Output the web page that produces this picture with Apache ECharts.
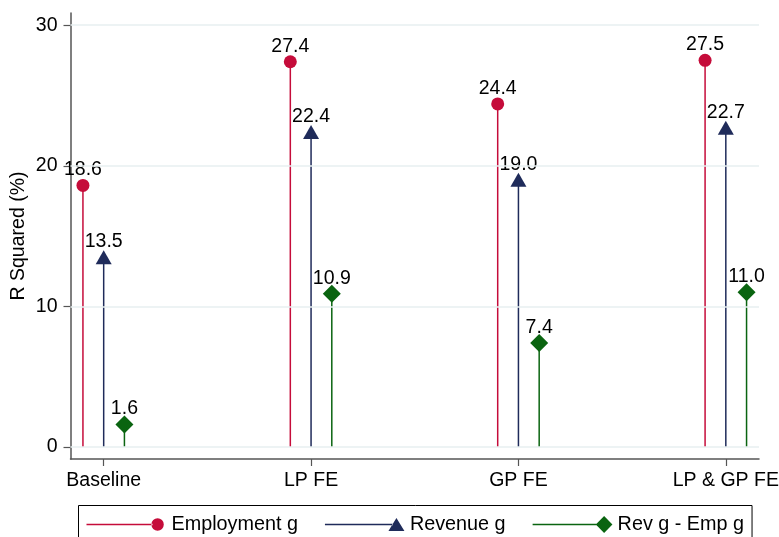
<!DOCTYPE html>
<html>
<head>
<meta charset="utf-8">
<script src="https://cdn.jsdelivr.net/npm/echarts@6/dist/echarts.min.js"></script>
<style>
html,body{margin:0;padding:0;background:#fff;}
#chart{width:779px;height:537px;}
</style>
</head>
<body>
<div id="chart"></div>
<script>
// ---- data ----
const categories = ['Baseline', 'LP FE', 'GP FE', 'LP & GP FE'];
const catPositions = [1, 2, 3, 4];
const employment = [18.6, 27.4, 24.4, 27.5];
const revenue = [13.5, 22.4, 19.0, 22.7];
const revMinusEmp = [1.6, 10.9, 7.4, 11.0];
const yTicks = [0, 10, 20, 30];
const seriesNames = ['Employment g', 'Revenue g', 'Rev g - Emp g'];

// ---- styling ----
const FONT = 'Liberation Sans, Arial, Helvetica, sans-serif';
const FS = 19.5;
const colors = ['#c50c3a', '#1f2b5a', '#0a6410'];
const offsets = [-0.1, 0, 0.1];
const symbols = ['circle', 'triangle', 'diamond'];
const symbolSizes = [13, [16, 14], [18, 18]];
const legendIcons = [
  'path://M0,0 M80,18 M0,8.25 L66,8.25 L66,9.75 L0,9.75 Z M64.9,9 A6.2,6.2 0 1,0 77.3,9 A6.2,6.2 0 1,0 64.9,9 Z',
  'path://M0,0 M80,18 M0,8.25 L68,8.25 L68,9.75 L0,9.75 Z M63.5,15.5 L79.5,15.5 L71.5,2.5 Z',
  'path://M0,0 M80,18 M0,8.25 L66,8.25 L66,9.75 L0,9.75 Z M71.5,0.5 L79.8,9 L71.5,17.5 L63.2,9 Z'
];

const valueSets = [employment, revenue, revMinusEmp];

const series = [];
valueSets.forEach((vals, i) => {
  const pts = vals.map((v, j) => [catPositions[j] + offsets[i], v]);
  const drop = {
    type: 'custom',
    name: 'drop' + i,
    z: 1,
    silent: true,
    data: pts,
    renderItem: function (params, api) {
      const p0 = api.coord([api.value(0), 0]);
      const p1 = api.coord([api.value(0), api.value(1)]);
      return {
        type: 'line',
        shape: { x1: p0[0], y1: p0[1], x2: p1[0], y2: p1[1] },
        style: { stroke: colors[i], lineWidth: 1.5 }
      };
    }
  };
  if (i === 0) {
    drop.markLine = {
      silent: true,
      symbol: 'none',
      label: { show: false },
      animation: false,
      lineStyle: { color: '#e7eff1', width: 1.5, type: 'solid' },
      data: yTicks.map(v => ({ yAxis: v }))
    };
  }
  series.push(drop);
  series.push({
    type: 'scatter',
    name: seriesNames[i],
    z: 3,
    symbol: symbols[i],
    symbolSize: symbolSizes[i],
    itemStyle: { color: colors[i], opacity: 1 },
    data: pts,
    label: {
      show: true,
      position: 'inside',
      offset: [0, -15.5],
      color: '#000',
      fontFamily: FONT,
      fontSize: FS,
      formatter: p => p.value[1].toFixed(1)
    }
  });
});

const chart = echarts.init(document.getElementById('chart'), null, { renderer: 'canvas' });
chart.setOption({
  animation: false,
  backgroundColor: '#ffffff',
  textStyle: { fontFamily: FONT },
  grid: { left: 70.5, right: 20, top: 13, bottom: 78, containLabel: false, outerBoundsMode: 'none' },
  xAxis: {
    type: 'value',
    min: 0.84,
    max: 4.16,
    splitLine: { show: false },
    axisLine: { show: true, onZero: false, lineStyle: { color: '#555', width: 1.5 } },
    axisTick: { show: true, length: 7, customValues: catPositions, lineStyle: { color: '#555', width: 1.2 } },
    axisLabel: {
      show: true,
      customValues: catPositions,
      margin: 12,
      color: '#000',
      fontFamily: FONT,
      fontSize: FS,
      hideOverlap: false,
      formatter: v => categories[Math.round(v) - 1]
    }
  },
  yAxis: {
    type: 'value',
    min: -0.86,
    max: 30.87,
    name: 'R Squared (%)',
    nameLocation: 'middle',
    nameGap: 42,
    nameMoveOverlap: false,
    nameTextStyle: { color: '#000', fontFamily: FONT, fontSize: FS },
    splitLine: { show: false },
    axisLine: { show: true, onZero: false, lineStyle: { color: '#555', width: 1.5 } },
    axisTick: { show: true, length: 7, customValues: yTicks, lineStyle: { color: '#555', width: 1.2 } },
    axisLabel: {
      show: true,
      customValues: yTicks,
      margin: 13,
      color: '#000',
      fontFamily: FONT,
      fontSize: FS
    }
  },
  legend: {
    show: true,
    data: seriesNames.map((n, i) => ({ name: n, icon: legendIcons[i], itemStyle: { color: colors[i] } })),
    left: 78.5,
    top: 505.5,
    orient: 'horizontal',
    itemWidth: 80,
    itemHeight: 18,
    itemGap: 27,
    padding: [9, 8, 12, 8],
    borderColor: '#000',
    borderWidth: 1,
    backgroundColor: '#fff',
    selectedMode: false,
    textStyle: { color: '#000', fontFamily: FONT, fontSize: 19.8 }
  },
  series: series
});
</script>
</body>
</html>
